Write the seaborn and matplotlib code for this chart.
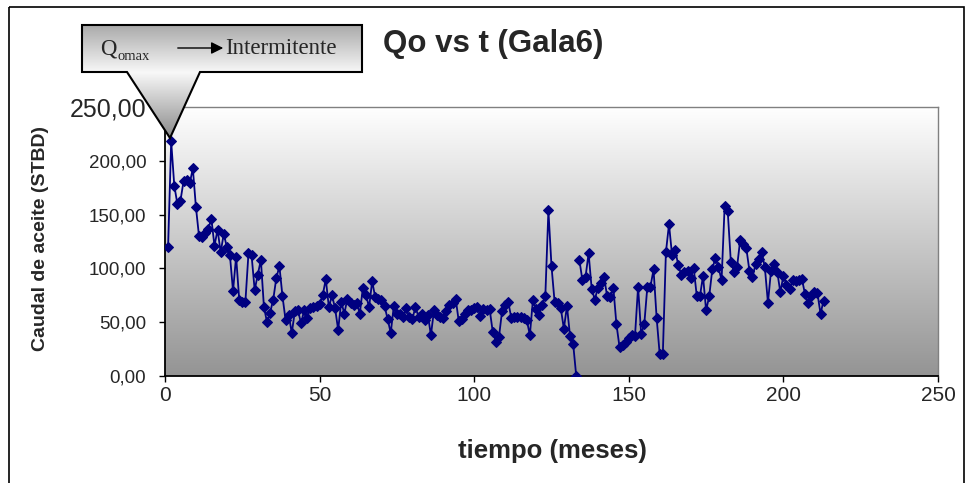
import numpy as np
import pandas as pd
import matplotlib
matplotlib.use('Agg')
import matplotlib.pyplot as plt
import seaborn as sns
from matplotlib.patches import Polygon, Rectangle
from matplotlib.colors import LinearSegmentedColormap
from matplotlib.ticker import FuncFormatter

# tramo 1: meses 1-133 (termina en cero)
meses_1 = list(range(1, 134))
caudal_1 = [120, 218, 177, 160, 163, 181, 182, 179, 193, 157,
            130, 129, 133, 137, 146, 121, 136, 115, 132, 120,
            112, 79, 111, 71, 69, 69, 114, 112, 80, 94,
            108, 64, 50, 59, 71, 91, 102, 74, 52, 57,
            40, 60, 61, 49, 61, 54, 63, 64, 65, 67,
            75, 90, 64, 75, 63, 43, 69, 58, 72, 68,
            66, 68, 58, 82, 75, 64, 88, 73, 72, 71,
            65, 53, 40, 65, 58, 58, 55, 63, 55, 53,
            64, 55, 58, 52, 57, 38, 61, 57, 55, 54,
            60, 66, 68, 72, 51, 53, 58, 61, 61, 63,
            64, 56, 62, 61, 62, 41, 32, 36, 60, 66,
            69, 54, 55, 55, 55, 54, 52, 38, 71, 62,
            57, 66, 74, 154, 102, 69, 68, 63, 44, 65,
            37, 30, 0]

# tramo 2: meses 134-213
meses_2 = list(range(134, 214))
caudal_2 = [108, 89, 92, 114, 81, 71, 82, 86, 92, 74,
            73, 82, 48, 27, 29, 32, 35, 38, 37, 83,
            39, 48, 83, 83, 99, 54, 20, 20, 115, 141,
            112, 117, 103, 94, 97, 98, 91, 100, 74, 74,
            93, 61, 74, 99, 110, 101, 89, 158, 153, 106,
            97, 101, 126, 123, 119, 98, 92, 104, 109, 115,
            101, 68, 98, 104, 97, 78, 93, 85, 81, 89,
            88, 89, 90, 76, 68, 74, 78, 77, 58, 70]

x_ticks = [0, 50, 100, 150, 200, 250]
y_ticks = [0, 50, 100, 150, 200, 250]

titulo = 'Qo vs t (Gala6)'
eje_x = 'tiempo (meses)'
eje_y = 'Caudal de aceite (STBD)'

sns.set_theme(style='white')
plt.rcParams['font.family'] = ['Liberation Sans', 'DejaVu Sans']

W, H = 973, 483
fig = plt.figure(figsize=(W / 100, H / 100), dpi=100)
fig.patch.set_facecolor('white')
ax = fig.add_axes([165 / W, 1 - 376 / H, (938 - 165) / W, (376 - 107) / H])

# fondo degradado del area de trazado
fondo = LinearSegmentedColormap.from_list('fondo', ['#ffffff', '#949494'])
ax.imshow(np.linspace(0, 1, 256).reshape(-1, 1), cmap=fondo, aspect='auto',
          extent=[0, 250, 0, 250], origin='upper', zorder=0)

df = pd.DataFrame({
    'mes': meses_1 + meses_2,
    'caudal': caudal_1 + caudal_2,
    'tramo': [1] * len(meses_1) + [2] * len(meses_2),
})
sns.lineplot(data=df, x='mes', y='caudal', units='tramo', estimator=None,
             color='#000080', marker='D', markersize=5, markeredgecolor='#000080',
             linewidth=1.3, ax=ax, legend=False, zorder=3)

ax.set_xlim(0, 250)
ax.set_ylim(0, 250)
ax.set_xticks(x_ticks)
ax.set_yticks(y_ticks)
ax.yaxis.set_major_formatter(FuncFormatter(lambda v, p: f'{v:.2f}'.replace('.', ',')))
ax.tick_params(axis='both', which='major', direction='out',
               length=4, width=1, color='black', left=True, bottom=True)
ax.tick_params(axis='x', labelsize=15, pad=3)
ax.tick_params(axis='y', labelsize=13.5, pad=9.5)
ax.grid(False)
for s in ['left', 'bottom']:
    ax.spines[s].set_color('black')
    ax.spines[s].set_linewidth(1.3)
for s in ['top', 'right']:
    ax.spines[s].set_color('#808080')
    ax.spines[s].set_linewidth(1)

# la etiqueta 250,00 aparece mas grande en el original
fig.canvas.draw()
ax.get_yticklabels()[-1].set_fontsize(18)

ax.set_xlabel(eje_x, fontsize=18.5, fontweight='bold')
ax.xaxis.set_label_coords(0.5006, -0.235)
ax.xaxis.label.set_va('top')
ax.set_ylabel(eje_y, fontsize=14, fontweight='bold')
ax.yaxis.set_label_coords(-0.150, 0.513)

fig.text(493 / W, 1 - 44 / H, titulo, ha='center', va='center',
         fontsize=22.5, fontweight='bold')

# capa de anotacion en pixeles
ov = fig.add_axes([0, 0, 1, 1], zorder=5)
ov.set_xlim(0, W)
ov.set_ylim(H, 0)
ov.axis('off')

ov.add_patch(Rectangle((9, 7), 955, 520, fill=False, edgecolor='black', lw=1.2))

forma = [(82, 25), (362, 25), (362, 72), (200, 72), (170, 138), (127, 72), (82, 72)]
globo = Polygon(forma, closed=True, facecolor='none', edgecolor='black', lw=1.5, zorder=3)
ov.add_patch(globo)
degr = LinearSegmentedColormap.from_list('globo', [(0, '#aaaaaa'), (0.42, '#f8f8f8'), (1, '#8a8a8a')])
img = ov.imshow(np.linspace(0, 1, 256).reshape(-1, 1), cmap=degr, aspect='auto',
                extent=[82, 362, 138, 25], zorder=2)
img.set_clip_path(globo)

serif = ['Liberation Serif', 'DejaVu Serif']
ov.text(100, 49, 'Q', family=serif, fontsize=16.5, va='center', ha='left', zorder=4)
ov.text(117, 56, 'omax', family=serif, fontsize=10.5, va='center', ha='left', zorder=4)
ov.annotate('', xy=(226, 48), xytext=(175, 48),
            arrowprops=dict(arrowstyle='-|>', color='black', lw=1, mutation_scale=18), zorder=4)
ov.text(225, 48, 'Intermitente', family=serif, fontsize=16.5, va='center', ha='left', zorder=4)

fig.savefig('out.png', dpi=100)
